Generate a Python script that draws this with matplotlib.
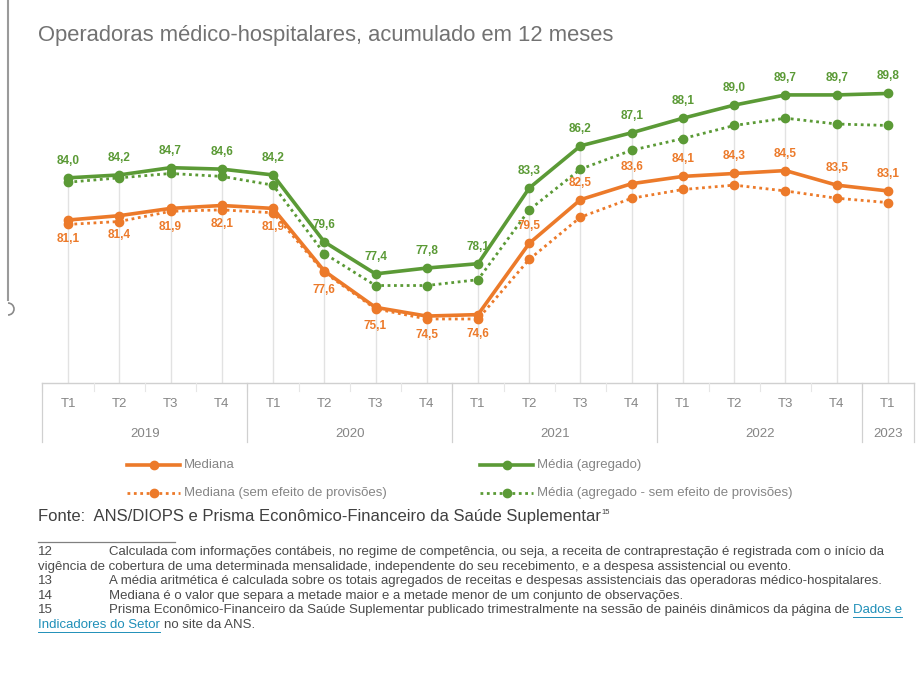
import matplotlib
matplotlib.use("Agg")
import matplotlib.pyplot as plt
from matplotlib.lines import Line2D
from matplotlib.patches import Arc
import matplotlib.transforms as mtransforms

# ---- data -------------------------------------------------------------
quarters = ["T1", "T2", "T3", "T4"] * 4 + ["T1"]
years = ["2019", "2020", "2021", "2022", "2023"]
year_spans = [4, 4, 4, 4, 1]

media = [84.0, 84.2, 84.7, 84.6, 84.2, 79.6, 77.4, 77.8, 78.1,
         83.3, 86.2, 87.1, 88.1, 89.0, 89.7, 89.7, 89.8]
mediana = [81.1, 81.4, 81.9, 82.1, 81.9, 77.6, 75.1, 74.5, 74.6,
           79.5, 82.5, 83.6, 84.1, 84.3, 84.5, 83.5, 83.1]
media_sem = [83.7, 84.0, 84.3, 84.1, 83.5, 78.8, 76.6, 76.6, 77.0,
             81.8, 84.6, 85.9, 86.7, 87.6, 88.1, 87.7, 87.6]
mediana_sem = [80.8, 81.0, 81.7, 81.8, 81.6, 77.5, 75.0, 74.3, 74.3,
               78.4, 81.3, 82.6, 83.2, 83.5, 83.1, 82.6, 82.3]

title = "Operadoras médico-hospitalares, acumulado em 12 meses"
legend_labels = ["Mediana", "Média (agregado)",
                 "Mediana (sem efeito de provisões)",
                 "Média (agregado - sem efeito de provisões)"]
source = "Fonte:  ANS/DIOPS e Prisma Econômico-Financeiro da Saúde Suplementar"
footnotes = [
    ("12", "Calculada com informações contábeis, no regime de competência, ou seja, a receita de contraprestação é registrada com o início da"),
    ("", "vigência de cobertura de uma determinada mensalidade, independente do seu recebimento, e a despesa assistencial ou evento."),
    ("13", "A média aritmética é calculada sobre os totais agregados de receitas e despesas assistenciais das operadoras médico-hospitalares."),
    ("14", "Mediana é o valor que separa a metade maior e a metade menor de um conjunto de observações."),
    ("15", "Prisma Econômico-Financeiro da Saúde Suplementar publicado trimestralmente na sessão de painéis dinâmicos da página de "),
]

# ---- style -------------------------------------------------------------
GREEN = "#5b9a36"
ORANGE = "#ec7a2a"
GRAY_TXT = "#858585"
GRID = "#e2e2e2"
W, H = 916, 681
SANS = ["Liberation Sans", "DejaVu Sans"]

fig = plt.figure(figsize=(W / 100, H / 100), dpi=100)
fig.patch.set_facecolor("white")


def fx(x):
    return x / W


def fy(y):
    return 1 - y / H


# plot area
left_px, right_px, top_px, bot_px = 42.4, 913.6, 60, 383
ax = fig.add_axes([fx(left_px), fy(bot_px), fx(right_px - left_px), (bot_px - top_px) / H])
n = len(media)
xs = list(range(n))
ax.set_xlim(-0.5, n - 0.5)
ax.set_ylim(69.9, 92.1)
ax.axis("off")

# drop lines from the highest series down to the axis
tops = [max(a, b, c, d) for a, b, c, d in zip(media, mediana, media_sem, mediana_sem)]
ax.vlines(xs, 69.9, tops, color=GRID, lw=1.0, zorder=1)

# series
DOT = (0, (1, 1.3))
ax.plot(xs, mediana_sem, color=ORANGE, lw=2.0, ls=DOT, marker="o", ms=6, zorder=3)
ax.plot(xs, media_sem, color=GREEN, lw=2.0, ls=DOT, marker="o", ms=6, zorder=3)
ax.plot(xs, mediana, color=ORANGE, lw=2.6, marker="o", ms=6, zorder=4)
ax.plot(xs, media, color=GREEN, lw=2.6, marker="o", ms=6, zorder=4)


def fmt(v):
    return f"{v:.1f}".replace(".", ",")


for i, v in enumerate(media):
    ax.annotate(fmt(v), (i, v), xytext=(0, 17), textcoords="offset pixels",
                ha="center", va="center", color=GREEN, fontsize=8.5,
                fontweight="bold", family=SANS, zorder=5)
for i, v in enumerate(mediana):
    dy = -19 if i <= 8 else 17
    ax.annotate(fmt(v), (i, v), xytext=(0, dy), textcoords="offset pixels",
                ha="center", va="center", color=ORANGE, fontsize=8.5,
                fontweight="bold", family=SANS, zorder=5)

# ---- category axis ------------------------------------------------------
bt = mtransforms.blended_transform_factory(ax.transData, fig.transFigure)
ax.add_line(Line2D([-0.5, n - 0.5], [fy(bot_px)] * 2, transform=bt,
                   color="#d0d0d0", lw=1.0, clip_on=False))
for i in range(n + 1):
    ax.add_line(Line2D([i - 0.5] * 2, [fy(bot_px), fy(391)], transform=bt,
                       color="#e6e6e6", lw=0.8, clip_on=False))
for i, q in enumerate(quarters):
    ax.text(i, fy(404), q, transform=bt, ha="center", va="center",
            fontsize=9.5, color=GRAY_TXT, family=SANS)
start = 0
bounds = [-0.5]
for yr, span in zip(years, year_spans):
    ax.text(start + (span - 1) / 2, fy(434), yr, transform=bt, ha="center",
            va="center", fontsize=9.5, color=GRAY_TXT, family=SANS)
    start += span
    bounds.append(start - 0.5)
for b in bounds:
    ax.add_line(Line2D([b, b], [fy(bot_px), fy(442)], transform=bt,
                       color="#d0d0d0", lw=0.9, clip_on=False))

# ---- title --------------------------------------------------------------
fig.text(fx(38), fy(35), title, ha="left", va="center", fontsize=15.8,
         color="#727272", family=SANS)

# ---- legend -------------------------------------------------------------
leg_items = [
    (127, 180, 465, ORANGE, "-", 2.6, legend_labels[0]),
    (480, 533, 465, GREEN, "-", 2.6, legend_labels[1]),
    (127, 180, 493, ORANGE, DOT, 2.0, legend_labels[2]),
    (480, 533, 493, GREEN, DOT, 2.0, legend_labels[3]),
]
for x0, x1, yy, col, ls, lw, lab in leg_items:
    fig.add_artist(Line2D([fx(x0), fx(x1)], [fy(yy)] * 2, color=col, ls=ls, lw=lw,
                          transform=fig.transFigure))
    fig.add_artist(Line2D([fx((x0 + x1) / 2)], [fy(yy)], color=col, marker="o", ms=6,
                          transform=fig.transFigure))
    fig.text(fx(x1 + 4), fy(yy), lab, ha="left", va="center", fontsize=9.5,
             color=GRAY_TXT, family=SANS)

# ---- source and footnotes ----------------------------------------------
src = fig.text(fx(38), fy(517), source, ha="left", va="center", fontsize=12,
               color="#404040", family=SANS)
fig.canvas.draw()
bb = src.get_window_extent()
fig.text(bb.x1 / W + 0.001, fy(512), "15", ha="left", va="center", fontsize=5.5,
         color="#404040", family=SANS)

fig.add_artist(Line2D([fx(38), fx(175)], [fy(542)] * 2, color="#808080", lw=0.9,
                      transform=fig.transFigure))

FN = 9.5
TXT = "#4a4a4a"
row_y = [552 + 14.6 * k for k in range(6)]
for k, (num, txt) in enumerate(footnotes):
    if num:
        fig.text(fx(38), fy(row_y[k]), num, ha="left", va="center", fontsize=FN,
                 color=TXT, family=SANS)
        fig.text(fx(109), fy(row_y[k]), txt, ha="left", va="center", fontsize=FN,
                 color=TXT, family=SANS)
    else:
        fig.text(fx(38), fy(row_y[k]), txt, ha="left", va="center", fontsize=FN,
                 color=TXT, family=SANS)

# hyperlink text on the last footnote
fig.canvas.draw()
last = fig.texts[-1]
lb = last.get_window_extent()
LINK = "#1f8fb8"
l1 = fig.text(lb.x1 / W, fy(row_y[4]), "Dados e", ha="left", va="center", fontsize=FN,
              color=LINK, family=SANS)
l2 = fig.text(fx(38), fy(row_y[5]), "Indicadores do Setor", ha="left", va="center",
              fontsize=FN, color=LINK, family=SANS)
fig.canvas.draw()
b1 = l1.get_window_extent()
b2 = l2.get_window_extent()
fig.add_artist(Line2D([b1.x0 / W, b1.x1 / W], [fy(row_y[4] + 6.5)] * 2, color=LINK, lw=0.7,
                      transform=fig.transFigure))
fig.add_artist(Line2D([fx(38), b2.x1 / W], [fy(row_y[5] + 6.5)] * 2, color=LINK, lw=0.7,
                      transform=fig.transFigure))
fig.text(b2.x1 / W + 0.004, fy(row_y[5]), "no site da ANS.", ha="left", va="center",
         fontsize=FN, color=TXT, family=SANS)

# page edge on the left
fig.add_artist(Line2D([fx(8), fx(8)], [fy(0), fy(300)], color="#9a9a9a", lw=1.5,
                      transform=fig.transFigure))
fig.add_artist(Arc((fx(8), fy(309)), fx(12), 12 / H, theta1=-90, theta2=90,
                   color="#8a8a8a", lw=1.2, transform=fig.transFigure))

fig.savefig("out.png", dpi=100, facecolor="white")
